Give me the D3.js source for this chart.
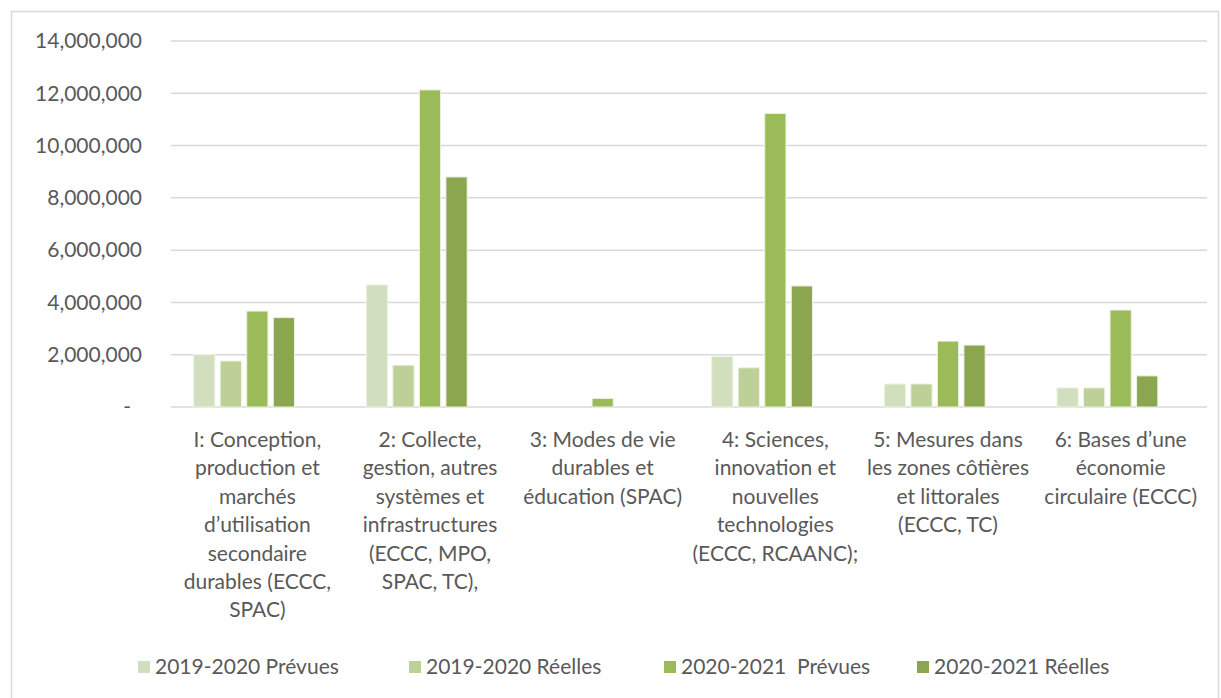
<!DOCTYPE html>
<html>
  <head>
    <meta charset="utf-8">
    <script src="https://d3js.org/d3.v7.min.js" charset="utf-8"></script>
    <style>
    body {
      margin: 0;
      background-color: #fff;
    }
    text {
      font-family: Lato, "Open Sans", sans-serif;
      fill: #595959;
    }
    </style>
    <title>Dépenses par domaine</title>
  </head>
  <body>
    <div class="chart"></div>
    <script>

      // categories (line breaks as in the original)
      var categories = [
        ["I: Conception,", "production et", "marchés", "d\u2019utilisation", "secondaire", "durables (ECCC,", "SPAC)"],
        ["2: Collecte,", "gestion, autres", "systèmes et", "infrastructures", "(ECCC, MPO,", "SPAC, TC),"],
        ["3: Modes de vie", "durables et", "éducation (SPAC)"],
        ["4: Sciences,", "innovation et", "nouvelles", "technologies", "(ECCC, RCAANC);"],
        ["5: Mesures dans", "les zones côtières", "et littorales", "(ECCC, TC)"],
        ["6: Bases d\u2019une", "économie", "circulaire (ECCC)"]
      ];

      var seriesNames = ["2019-2020 Prévues", "2019-2020 Réelles", "2020-2021  Prévues", "2020-2021 Réelles"];

      var prevues1920 = [2000000, 4670000, 0, 1930000, 880000, 730000];
      var reelles1920 = [1760000, 1600000, 0, 1500000, 880000, 730000];
      var prevues2021 = [3670000, 12130000, 330000, 11230000, 2520000, 3710000];
      var reelles2021 = [3420000, 8800000, 0, 4630000, 2370000, 1190000];

      var yTicks = [0, 2000000, 4000000, 6000000, 8000000, 10000000, 12000000, 14000000];

      var colors = ["#d2dfbe", "#bcd098", "#9bbb59", "#8ba64f"];

      var series = [prevues1920, reelles1920, prevues2021, reelles2021];

      var width = 1221, height = 698;
      var margin = {top: 41, right: 14, bottom: 291, left: 171};
      var innerW = width - margin.left - margin.right;
      var innerH = height - margin.top - margin.bottom;

      var svg = d3.select(".chart").append("svg")
          .attr("width", width)
          .attr("height", height);

      // chart frame
      svg.append("rect")
          .attr("x", 11.5).attr("y", 11.5)
          .attr("width", 1207).attr("height", 700)
          .attr("fill", "none")
          .attr("stroke", "#d9d9d9")
          .attr("stroke-width", 1.5);

      var g = svg.append("g")
          .attr("transform", "translate(" + margin.left + "," + margin.top + ")");

      var x0 = d3.scaleBand()
          .domain(d3.range(categories.length))
          .range([0, innerW])
          .paddingInner(0.2316)
          .paddingOuter(0.1158);

      // five slots per group, the last one is an empty series
      var x1 = d3.scaleBand()
          .domain(d3.range(5))
          .range([0, x0.bandwidth()])
          .paddingInner(0.2)
          .paddingOuter(0.1);

      var y = d3.scaleLinear()
          .domain([0, 14000000])
          .range([innerH, 0]);

      // gridlines
      g.append("g").selectAll("line")
        .data(yTicks)
        .enter().append("line")
          .attr("x1", 0).attr("x2", innerW)
          .attr("y1", function(d) { return y(d); })
          .attr("y2", function(d) { return y(d); })
          .attr("stroke", "#d9d9d9")
          .attr("stroke-width", 1.5);

      // y axis labels
      var yAxis = d3.axisLeft(y)
          .tickValues(yTicks)
          .tickSize(0)
          .tickPadding(29)
          .tickFormat(function(d) { return d === 0 ? "-" : d3.format(",")(d); });

      var ya = g.append("g").call(yAxis);
      ya.select(".domain").remove();
      ya.selectAll("text")
          .attr("font-size", 21)
          .attr("fill", "#595959")
          .style("font-family", "Lato, sans-serif")
          .attr("dx", function(d) { return d === 0 ? -11 : 0; });

      // bars
      var groups = g.append("g").selectAll("g")
        .data(categories)
        .enter().append("g")
          .attr("transform", function(d, i) { return "translate(" + x0(i) + ",0)"; });

      groups.selectAll("rect")
        .data(function(d, i) { return series.map(function(s, k) { return {k: k, value: s[i]}; }); })
        .enter().append("rect")
          .attr("x", function(d) { return x1(d.k); })
          .attr("y", function(d) { return y(d.value); })
          .attr("width", x1.bandwidth())
          .attr("height", function(d) { return innerH - y(d.value); })
          .attr("fill", function(d) { return colors[d.k]; })
          .attr("stroke", function(d) { return d.value > 0 ? "#eef3e4" : "none"; })
          .attr("stroke-width", 1);

      // category labels
      var labels = g.append("g").selectAll("text")
        .data(categories)
        .enter().append("text")
          .attr("text-anchor", "middle")
          .attr("font-size", 21)
          .attr("transform", function(d, i) { return "translate(" + (x0(i) + x0.bandwidth() / 2) + "," + (innerH + 40) + ")"; });

      labels.selectAll("tspan")
        .data(function(d) { return d; })
        .enter().append("tspan")
          .attr("x", 0)
          .attr("y", function(d, i) { return i * 28.4; })
          .text(function(d) { return d; });

      // legend
      var legendX = [138, 409, 664, 917];
      var legend = svg.append("g").selectAll("g")
        .data(seriesNames)
        .enter().append("g")
          .attr("transform", function(d, i) { return "translate(" + legendX[i] + ",661)"; });

      legend.append("rect")
          .attr("width", 12).attr("height", 12)
          .attr("fill", function(d, i) { return colors[i]; });

      legend.append("text")
          .attr("x", 17)
          .attr("y", 6)
          .attr("dy", "0.35em")
          .attr("font-size", 21)
          .style("white-space", "pre")
          .text(function(d) { return d; });

    </script>
  </body>
</html>
